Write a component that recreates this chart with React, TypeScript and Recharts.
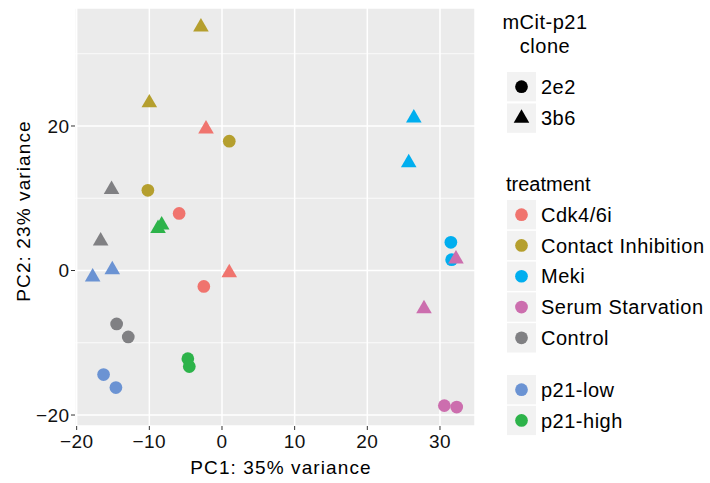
import React from 'react';
import { ScatterChart, Scatter, XAxis, YAxis, CartesianGrid, Legend, Symbols } from 'recharts';

const FONT = '"Liberation Sans", Arial, Helvetica, sans-serif';

// ---- data ----
const treatmentNames = ['Cdk4/6i', 'Contact Inhibition', 'Meki', 'Serum Starvation', 'Control'];
const groupNames = ['p21-low', 'p21-high'];
const cloneNames = ['2e2', '3b6'];

const treatmentColors: Record<string, string> = {
  'Cdk4/6i': '#F0746E',
  'Contact Inhibition': '#B59F2E',
  Meki: '#00AEEF',
  'Serum Starvation': '#CC6EAE',
  Control: '#808083',
  'p21-low': '#6B93D3',
  'p21-high': '#2DB34A',
};

const cdkPoints = [
  { pc1: -5.9, pc2: 7.9, clone: '2e2' },
  { pc1: -2.5, pc2: -2.2, clone: '2e2' },
  { pc1: -2.2, pc2: 19.6, clone: '3b6' },
  { pc1: 1.0, pc2: -0.3, clone: '3b6' },
];
const contactPoints = [
  { pc1: 1.0, pc2: 17.9, clone: '2e2' },
  { pc1: -10.2, pc2: 11.1, clone: '2e2' },
  { pc1: -2.9, pc2: 33.7, clone: '3b6' },
  { pc1: -10.0, pc2: 23.2, clone: '3b6' },
];
const mekiPoints = [
  { pc1: 31.5, pc2: 3.9, clone: '2e2' },
  { pc1: 31.6, pc2: 1.5, clone: '2e2' },
  { pc1: 26.4, pc2: 21.1, clone: '3b6' },
  { pc1: 25.7, pc2: 14.9, clone: '3b6' },
];
const serumPoints = [
  { pc1: 30.6, pc2: -18.7, clone: '2e2' },
  { pc1: 32.3, pc2: -18.9, clone: '2e2' },
  { pc1: 32.2, pc2: 1.6, clone: '3b6' },
  { pc1: 27.8, pc2: -5.3, clone: '3b6' },
];
const controlPoints = [
  { pc1: -14.5, pc2: -7.4, clone: '2e2' },
  { pc1: -12.9, pc2: -9.2, clone: '2e2' },
  { pc1: -15.2, pc2: 11.2, clone: '3b6' },
  { pc1: -16.7, pc2: 4.1, clone: '3b6' },
];
const p21LowPoints = [
  { pc1: -16.3, pc2: -14.4, clone: '2e2' },
  { pc1: -14.6, pc2: -16.2, clone: '2e2' },
  { pc1: -17.8, pc2: -0.9, clone: '3b6' },
  { pc1: -15.1, pc2: 0.1, clone: '3b6' },
];
const p21HighPoints = [
  { pc1: -4.7, pc2: -12.2, clone: '2e2' },
  { pc1: -4.5, pc2: -13.3, clone: '2e2' },
  { pc1: -8.3, pc2: 6.3, clone: '3b6' },
  { pc1: -8.8, pc2: 5.8, clone: '3b6' },
];

const seriesList = [
  { name: 'Cdk4/6i', data: cdkPoints },
  { name: 'Contact Inhibition', data: contactPoints },
  { name: 'Meki', data: mekiPoints },
  { name: 'Serum Starvation', data: serumPoints },
  { name: 'Control', data: controlPoints },
  { name: 'p21-low', data: p21LowPoints },
  { name: 'p21-high', data: p21HighPoints },
];

const xTicks = [-20, -10, 0, 10, 20, 30];
const yTicks = [-20, 0, 20];
const yMinorTicks = [-10, 10, 30];
const xDomain = [-20.23, 34.82];
const yDomain = [-21.52, 36.33];

const xTitle = 'PC1: 35% variance';
const yTitle = 'PC2: 23% variance';
const shapeLegendTitle = ['mCit-p21', 'clone'];
const treatmentLegendTitle = 'treatment';

// ---- styles ----
const CIRCLE_SIZE = 127;
const TRIANGLE_SIZE = 105;
const fmt = (v: number) => (v < 0 ? '\u2212' + Math.abs(v) : String(v));

const makeShape = (color: string) => (props: any) => {
  const { cx, cy, payload } = props;
  if (cx == null || cy == null) return <g />;
  const isCircle = payload.clone === '2e2';
  return (
    <Symbols
      cx={cx}
      cy={cy}
      type={isCircle ? 'circle' : 'triangle'}
      size={isCircle ? CIRCLE_SIZE : TRIANGLE_SIZE}
      fill={color}
      stroke="none"
    />
  );
};

const legendText: React.CSSProperties = { fontFamily: FONT, fontSize: 20, letterSpacing: 0.5, fill: '#000' };

const LegendContent = () => {
  const keyX = 507;
  const keyW = 29;
  const keyH = 29.3;
  const symX = keyX + keyW / 2;
  const labelX = 541;
  const pitch = 30.8;
  const items: React.ReactNode[] = [];
  items.push(
    <text key="st1" x={545} y={28.5} textAnchor="middle" style={legendText}>{shapeLegendTitle[0]}</text>,
    <text key="st2" x={545} y={53} textAnchor="middle" style={legendText}>{shapeLegendTitle[1]}</text>
  );
  cloneNames.forEach((c, i) => {
    const top = 72 + i * 31.5;
    const cy = top + keyH / 2;
    items.push(
      <g key={'c' + c}>
        <rect x={keyX} y={top} width={keyW} height={keyH} fill="#F2F2F2" />
        <Symbols cx={symX} cy={cy} type={i === 0 ? 'circle' : 'triangle'} size={i === 0 ? CIRCLE_SIZE : TRIANGLE_SIZE} fill="#000" />
        <text x={labelX} y={cy + 7.2} style={legendText}>{c}</text>
      </g>
    );
  });
  items.push(
    <text key="tt" x={506} y={190.5} style={{ ...legendText, letterSpacing: 0 }}>{treatmentLegendTitle}</text>
  );
  const block = (names: string[], startTop: number, prefix: string) =>
    names.forEach((n, i) => {
      const top = startTop + i * pitch;
      const cy = top + keyH / 2;
      items.push(
        <g key={prefix + n}>
          <rect x={keyX} y={top} width={keyW} height={keyH} fill="#F2F2F2" />
          <Symbols cx={symX} cy={cy} type="circle" size={CIRCLE_SIZE} fill={treatmentColors[n]} />
          <text x={labelX} y={cy + 7.2} style={legendText}>{n}</text>
        </g>
      );
    });
  block(treatmentNames, 200, 't');
  block(groupNames, 375, 'g');
  return (
    <svg width={710} height={483} style={{ position: 'absolute', left: 0, top: 0 }}>
      {items}
    </svg>
  );
};

const axisTitleStyle: React.CSSProperties = { fontFamily: FONT, fontSize: 19, letterSpacing: 1.1, fill: '#000' };

const renderXTitle = (props: any) => {
  const vb = props.viewBox || { x: 75, y: 426, width: 400, height: 57 };
  return (
    <text x={vb.x + vb.width / 2 + 6} y={vb.y + 47.5} textAnchor="middle" style={axisTitleStyle}>
      {xTitle}
    </text>
  );
};

const renderYTitle = (props: any) => {
  const vb = props.viewBox || { x: 0, y: 8, width: 75, height: 418 };
  const x = vb.x + 30;
  const y = vb.y + vb.height / 2 - 6;
  return (
    <text x={x} y={y} transform={`rotate(-90, ${x}, ${y})`} textAnchor="middle" style={axisTitleStyle}>
      {yTitle}
    </text>
  );
};

const tickStyle = { fill: '#111', fontSize: 19, fontFamily: FONT, letterSpacing: 0.4 };

export default function App() {
  return (
    <div style={{ position: 'absolute', left: 0, top: 0, width: 710, height: 483, background: '#fff' }}>
      <ScatterChart width={710} height={483} margin={{ top: 8, right: 235, bottom: 0, left: 0 }} style={{ fontFamily: FONT }}>
        <CartesianGrid fill="#EBEBEB" stroke="#FFFFFF" strokeWidth={0.8} vertical={false} horizontalValues={yMinorTicks} />
        <CartesianGrid stroke="#FFFFFF" strokeWidth={1.5} />
        <XAxis
          type="number"
          dataKey="pc1"
          domain={xDomain}
          ticks={xTicks}
          allowDataOverflow
          height={57}
          axisLine={false}
          tickLine={{ stroke: '#333', strokeWidth: 1 }}
          tickSize={4}
          tickMargin={4.5}
          tick={tickStyle}
          tickFormatter={fmt}
          interval={0}
          label={renderXTitle}
        />
        <YAxis
          type="number"
          dataKey="pc2"
          domain={yDomain}
          ticks={yTicks}
          allowDataOverflow
          width={75}
          axisLine={false}
          tickLine={{ stroke: '#333', strokeWidth: 1 }}
          tickSize={4}
          tickMargin={1.5}
          tick={tickStyle}
          tickFormatter={fmt}
          interval={0}
          label={renderYTitle}
        />
        {seriesList.map((s) => (
          <Scatter
            key={s.name}
            name={s.name}
            data={s.data}
            fill={treatmentColors[s.name]}
            shape={makeShape(treatmentColors[s.name])}
            isAnimationActive={false}
          />
        ))}
        <Legend
          layout="horizontal"
          verticalAlign="middle"
          align="center"
          wrapperStyle={{ left: 0, top: 0, width: 710, height: 483, pointerEvents: 'none' }}
          content={LegendContent}
        />
      </ScatterChart>
    </div>
  );
}
